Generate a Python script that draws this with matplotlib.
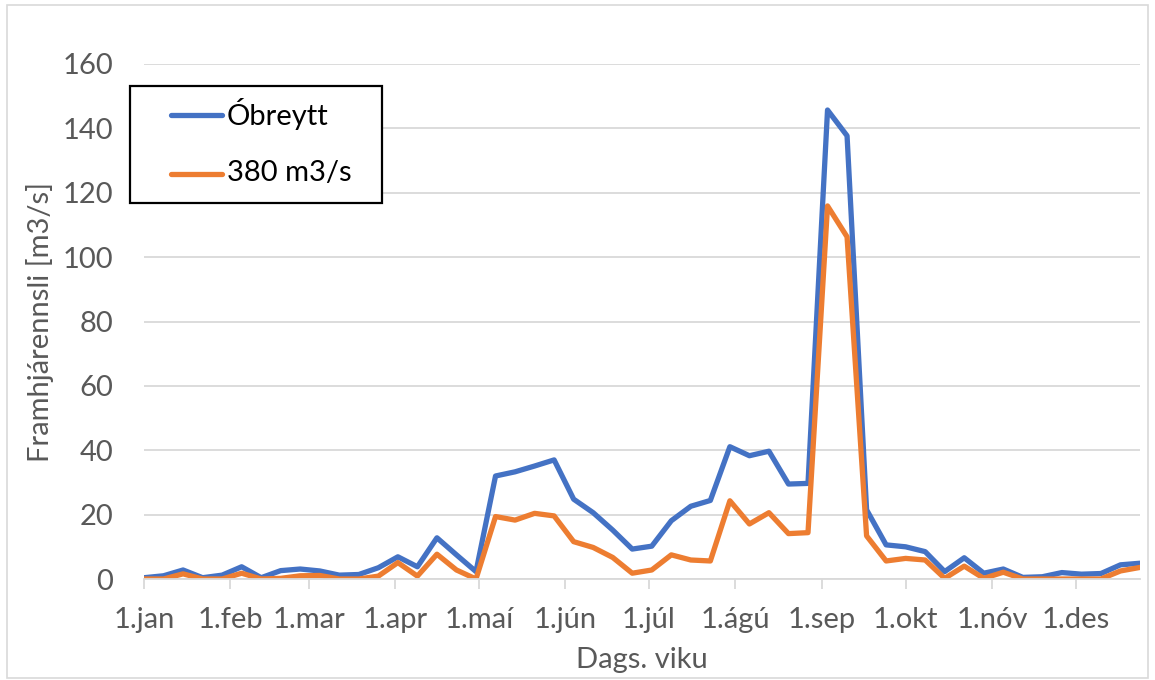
import matplotlib
matplotlib.use("Agg")
import matplotlib.pyplot as plt
import pandas as pd
from matplotlib.patches import Rectangle
from matplotlib.lines import Line2D

# ---- data ----
week_start = pd.date_range("2019-01-01", periods=52, freq="7D")
obreytt = [0.4, 1.0, 2.8, 0.4, 1.2, 3.8, 0.4, 2.6, 3.1, 2.5, 1.2, 1.4,
           3.5, 6.9, 3.8, 12.8, 7.5, 2.3, 32.0, 33.3, 35.1, 37.0, 24.8, 20.6,
           15.2, 9.3, 10.2, 18.1, 22.6, 24.4, 41.1, 38.3, 39.7, 29.5, 29.7, 145.7,
           137.7, 21.5, 10.6, 10.0, 8.5, 2.3, 6.6, 1.8, 3.1, 0.5, 0.7, 2.0,
           1.5, 1.7, 4.4, 4.9]
m380 = [0.0, 0.0, 1.6, 0.0, 0.0, 1.8, 0.0, 0.2, 1.0, 1.1, 0.0, 0.0,
        0.9, 5.1, 0.9, 7.7, 2.8, 0.0, 19.4, 18.3, 20.4, 19.6, 11.6, 9.8,
        6.7, 1.8, 2.8, 7.5, 5.9, 5.6, 24.3, 17.1, 20.6, 14.1, 14.4, 115.9,
        106.3, 13.4, 5.6, 6.4, 5.9, 0.2, 4.0, 0.2, 2.1, 0.0, 0.0, 0.0,
        0.0, 0.0, 2.5, 3.6]
month_ticks = pd.date_range("2019-01-01", periods=12, freq="MS")
month_labels = ["1.jan", "1.feb", "1.mar", "1.apr", "1.maí", "1.jún",
                "1.júl", "1.ágú", "1.sep", "1.okt", "1.nóv", "1.des"]
series_names = ["Óbreytt", "380 m3/s"]
series_colors = ["#4472C4", "#ED7D31"]
y_ticks = [0, 20, 40, 60, 80, 100, 120, 140, 160]

# ---- style ----
plt.rcParams["font.family"] = ["Lato", "DejaVu Sans"]
grey_txt = "#595959"
grid_c = "#d9d9d9"
FS = 21
W, H = 1155, 680

fig = plt.figure(figsize=(W / 100, H / 100), dpi=100)
ax = fig.add_axes([144 / W, 1 - 579 / H, (1140 - 144) / W, (579 - 64) / H])

fig.patches.append(Rectangle((7 / W, 2 / H), 1141 / W, 673 / H,
                             transform=fig.transFigure, fill=False,
                             edgecolor=grid_c, linewidth=1.2))

for vals, name, col in zip([obreytt, m380], series_names, series_colors):
    ax.plot(week_start, vals, color=col, lw=3.8, label=name,
            solid_joinstyle="round", solid_capstyle="round")

ax.set_xlim(week_start[0], week_start[-1])
ax.set_ylim(0, 160)
ax.set_yticks(y_ticks)
ax.set_xticks(month_ticks)
ax.set_xticklabels(month_labels)

ax.grid(axis="y", color=grid_c, lw=1.3)
ax.set_axisbelow(True)
for s in ["top", "right", "left"]:
    ax.spines[s].set_visible(False)
ax.spines["bottom"].set_color(grid_c)
ax.spines["bottom"].set_linewidth(1.3)
ax.tick_params(axis="x", colors=grid_c, length=7, width=1.3, labelcolor=grey_txt,
               labelsize=FS, pad=13)
ax.tick_params(axis="y", length=0, labelcolor=grey_txt, labelsize=FS, pad=22)

ax.set_xlabel("Dags. viku", fontsize=FS, color=grey_txt, va="center")
ax.xaxis.set_label_coords(0.5, (579 - 660) / 515)
ax.set_ylabel("Framhjárennsli [m3/s]", fontsize=FS, color=grey_txt, va="center")
ax.yaxis.set_label_coords((40 - 144) / 996, 0.5)

# ---- legend (drawn manually to match box geometry) ----
fig.patches.append(Rectangle((130 / W, 1 - 203 / H), (382 - 130) / W, (203 - 86) / H,
                             transform=fig.transFigure, facecolor="white",
                             edgecolor="black", linewidth=1.6, zorder=5))
for name, col, yc in zip(series_names, series_colors, [115, 174]):
    fig.lines.append(Line2D([171 / W, 222 / W], [1 - yc / H, 1 - yc / H],
                            transform=fig.transFigure, color=col, lw=3.8,
                            solid_capstyle="round", zorder=6))
    fig.text(227 / W, 1 - (yc - 1) / H, name, fontsize=FS, color="black",
             va="center", ha="left", zorder=6)

fig.savefig("out.png", dpi=100)
